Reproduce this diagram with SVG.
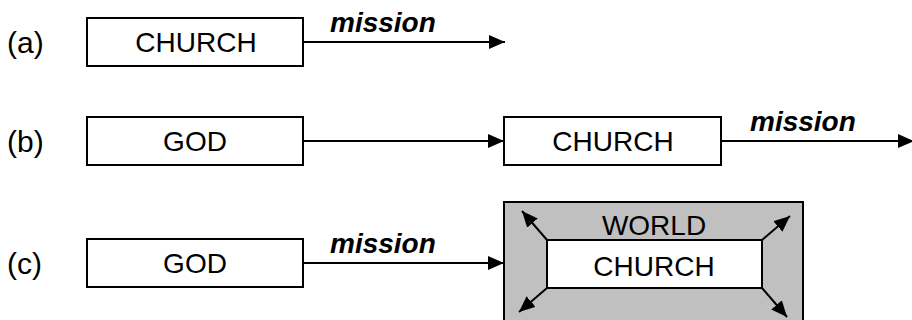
<svg xmlns="http://www.w3.org/2000/svg" width="912" height="320" viewBox="0 0 912 320">
  <style>
    .box { fill: #ffffff; stroke: #000000; stroke-width: 2; }
    .world { fill: #c0c0c0; stroke: #000000; stroke-width: 2; }
    .lbl { font-family: "Liberation Sans", Arial, sans-serif; font-size: 28px; fill: #000000; }
    .tag { font-family: "Liberation Sans", Arial, sans-serif; font-size: 30px; fill: #000000; }
    .mid { text-anchor: middle; }
    .mis { font-family: "Liberation Sans", Arial, sans-serif; font-size: 28px; font-weight: bold; font-style: italic; fill: #000000; }
    .edge { stroke: #000000; stroke-width: 2; fill: none; marker-end: url(#head); }
  </style>
  <defs>
    <marker id="head" viewBox="0 0 16 14" refX="16" refY="7" markerWidth="16" markerHeight="14" markerUnits="userSpaceOnUse" orient="auto">
      <path d="M0,0 L16,7 L0,14 Z" fill="#000000"/>
    </marker>
  </defs>

  <!-- row labels -->
  <text class="tag" x="7" y="53">(a)</text>
  <text class="tag" x="7" y="152">(b)</text>
  <text class="tag" x="7" y="274">(c)</text>

  <!-- (a) -->
  <g id="church-a">
    <rect class="box" x="87" y="18" width="216" height="48"/>
    <text class="lbl mid" x="196" y="52">CHURCH</text>
  </g>

  <!-- (b) -->
  <g id="god-b">
    <rect class="box" x="87" y="117" width="216" height="48"/>
    <text class="lbl mid" x="195" y="151">GOD</text>
  </g>
  <g id="church-b">
    <rect class="box" x="504" y="117" width="217" height="48"/>
    <text class="lbl mid" x="613" y="151">CHURCH</text>
  </g>

  <!-- (c) -->
  <g id="god-c">
    <rect class="box" x="87" y="239" width="216" height="48"/>
    <text class="lbl mid" x="195" y="273">GOD</text>
  </g>
  <g id="world-c">
    <rect class="world" x="504" y="202" width="299" height="130"/>
    <text class="lbl mid" x="654" y="235">WORLD</text>
  </g>
  <g id="church-c">
    <rect class="box" x="547" y="240" width="215" height="48"/>
    <text class="lbl mid" x="654" y="276">CHURCH</text>
  </g>

  <g id="connectors">
    <line class="edge" x1="303" y1="42" x2="505" y2="42"/>
    <text class="mis" x="330" y="32">mission</text>

    <line class="edge" x1="303" y1="141" x2="504" y2="141"/>
    <line class="edge" x1="721" y1="141" x2="914" y2="141"/>
    <text class="mis" x="750" y="131">mission</text>

    <line class="edge" x1="303" y1="263" x2="504" y2="263"/>
    <text class="mis" x="330" y="253">mission</text>

    <line class="edge" x1="547" y1="240" x2="522" y2="211"/>
    <line class="edge" x1="762" y1="240" x2="790" y2="216"/>
    <line class="edge" x1="547" y1="288" x2="519" y2="312"/>
    <line class="edge" x1="762" y1="288" x2="787" y2="317"/>
  </g>
</svg>
